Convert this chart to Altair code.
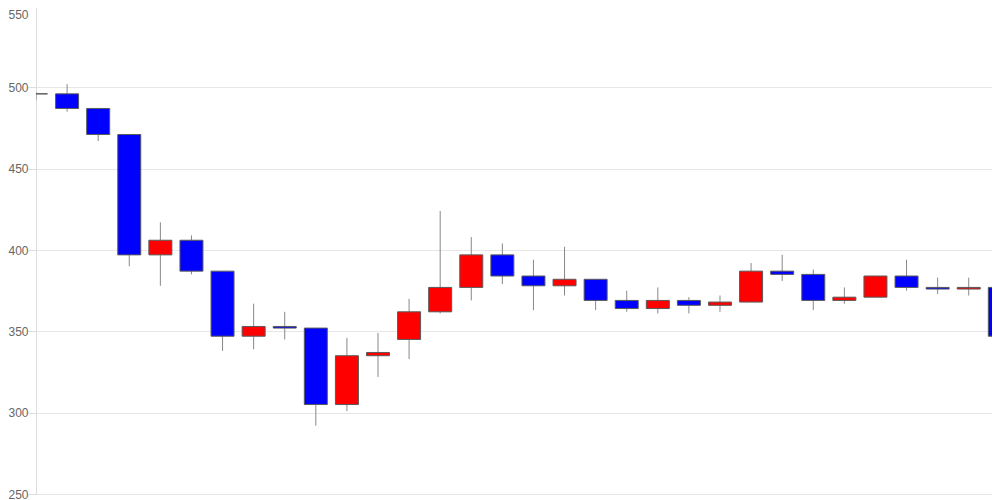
import altair as alt
import pandas as pd

idx = list(range(32))
opens  = [496, 496, 487, 471, 397, 406, 387, 347, 353, 352, 305, 335, 345, 362, 377, 397,
          384, 378, 382, 369, 364, 369, 366, 368, 387, 385, 369, 371, 384, 377, 376, 377]
closes = [496, 487, 471, 397, 406, 387, 347, 353, 352, 305, 335, 337, 362, 377, 397, 384,
          378, 382, 369, 364, 369, 366, 368, 387, 385, 369, 371, 384, 377, 376, 377, 347]
highs  = [497, 502, 487, 471, 417, 409, 387, 367, 362, 352, 346, 349, 370, 424, 408, 404,
          394, 402, 382, 375, 377, 371, 372, 392, 397, 388, 377, 384, 394, 383, 383, 378]
lows   = [492, 485, 467, 390, 378, 385, 338, 339, 345, 292, 301, 322, 333, 361, 369, 379,
          363, 372, 363, 362, 361, 361, 362, 368, 381, 363, 367, 371, 375, 373, 372, 337]
y_ticks = [250, 300, 350, 400, 450, 500, 550]

dir_ = []
for o, c in zip(opens, closes):
    dir_.append("up" if c > o else ("down" if c < o else "flat"))

df = pd.DataFrame({"i": idx, "open": opens, "close": closes, "high": highs,
                   "low": lows, "dir": dir_})

xs = alt.Scale(domain=[0, 31.006], nice=False, zero=False, padding=0)
ys = alt.Scale(domain=[250, 550], nice=False, zero=False)

base = alt.Chart(df)

wick = base.mark_rule(color="#888888", strokeWidth=1, clip=True).encode(
    x=alt.X("i:Q", scale=xs, axis=None),
    y=alt.Y("low:Q", scale=ys,
            axis=alt.Axis(values=y_ticks, title=None, labelColor="#666666",
                          labelFontSize=12, labelFont="Liberation Sans",
                          tickColor="#dddddd", tickSize=8, labelPadding=0,
                          labelOffset={"condition": {"test": "datum.value == 550",
                                                     "value": 8}, "value": 0},
                          domainColor="#dddddd", gridColor="#e6e6e6")),
    y2="high:Q",
)

body = base.mark_bar(width=23, stroke="#5a5a5a", strokeWidth=1, clip=True).encode(
    x=alt.X("i:Q", scale=xs, axis=None),
    y=alt.Y("open:Q", scale=ys),
    y2="close:Q",
    fill=alt.Fill("dir:N", scale=alt.Scale(domain=["up", "down", "flat"],
                                           range=["#ff0000", "#0000ff", "#555555"]),
                  legend=None),
)

chart = (wick + body).properties(
    width=964, height=488,
    autosize=alt.AutoSizeParams(type="none"),
    padding={"left": 28, "top": -2, "right": -8, "bottom": 6},
).configure_view(stroke=None).configure_axis(grid=True)

chart.save("out.html", embed_options={"renderer": "svg", "actions": False})
